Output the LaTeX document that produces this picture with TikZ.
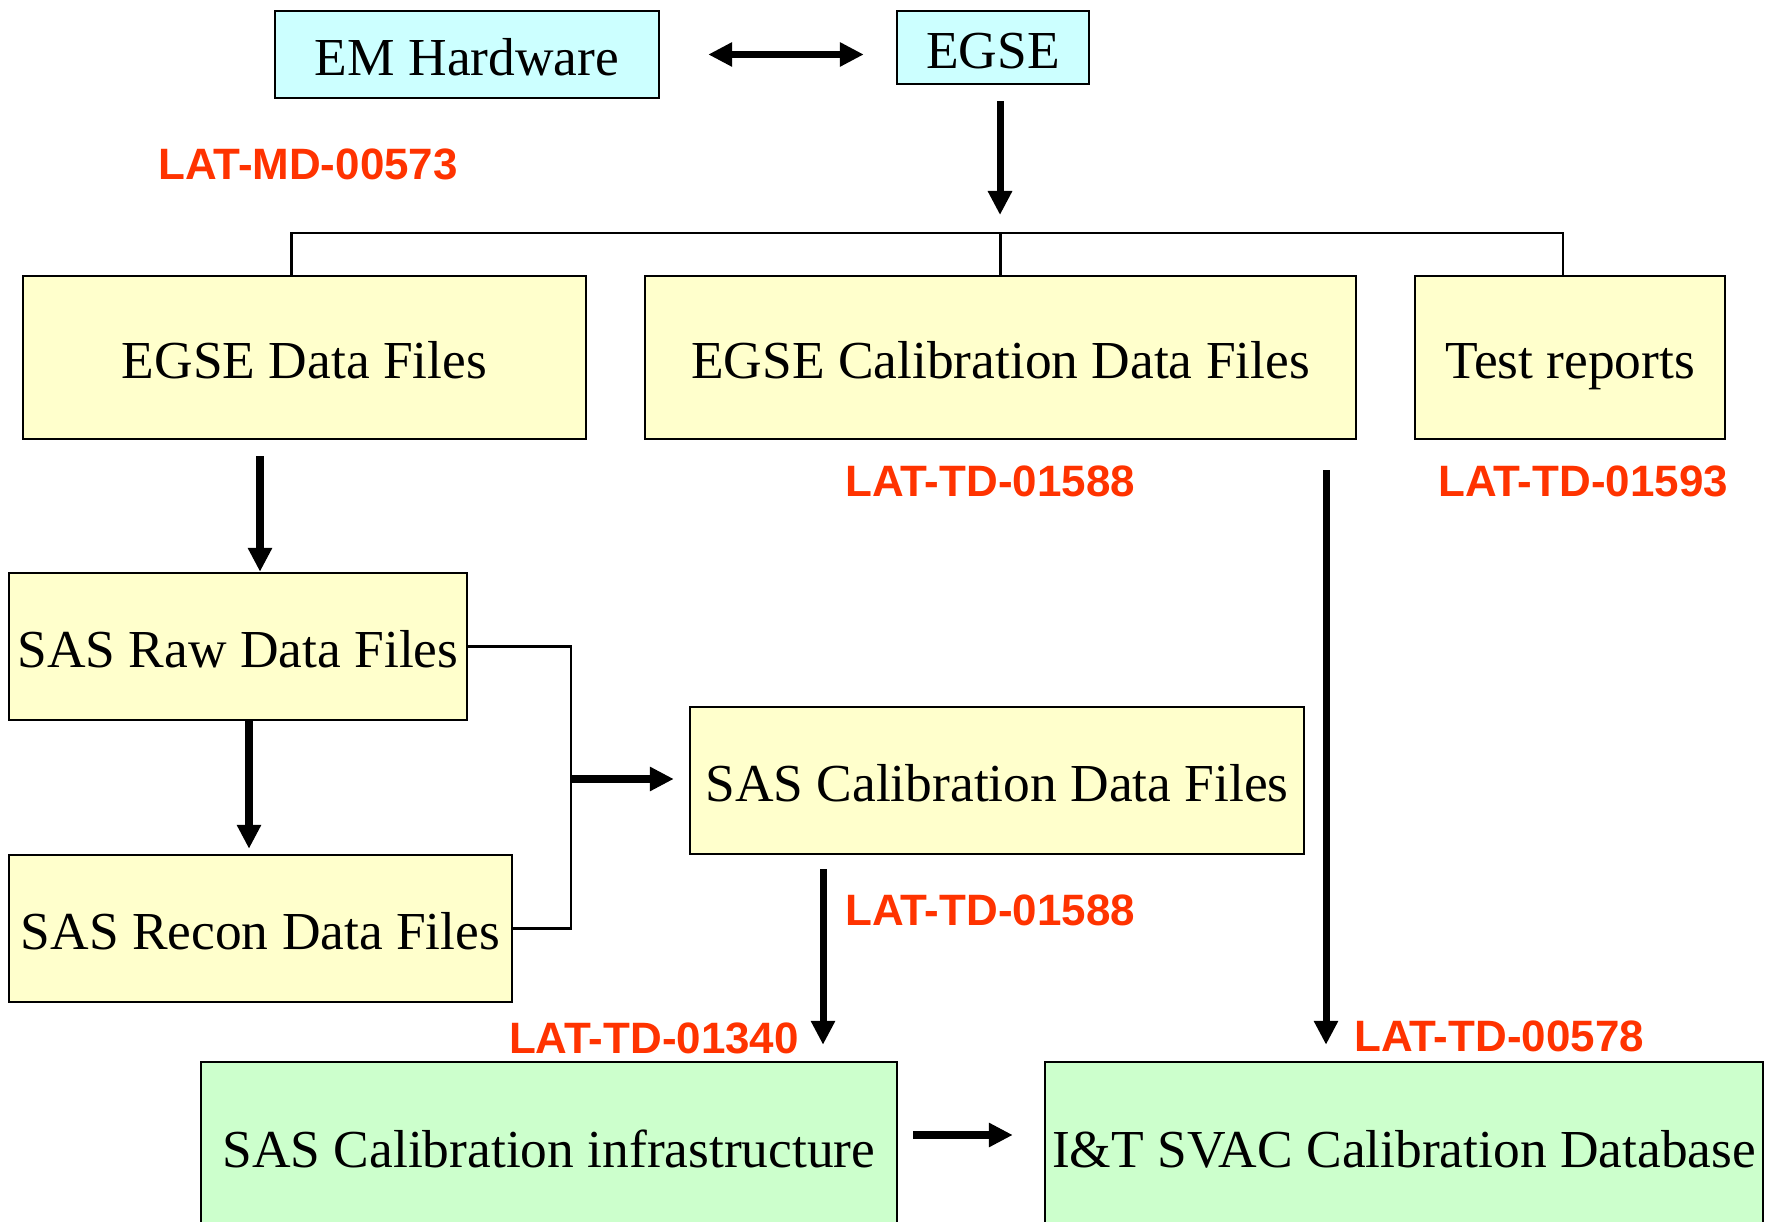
\documentclass[tikz,border=0pt]{standalone}
\usepackage{fontspec}
\setmainfont{Liberation Serif}
\newfontfamily\docfont{Liberation Sans}
\usetikzlibrary{arrows.meta}
\definecolor{hwcyan}{RGB}{204,255,255}
\definecolor{fileyellow}{RGB}{255,255,204}
\definecolor{calgreen}{RGB}{204,255,204}
\definecolor{docred}{RGB}{255,51,0}

\begin{document}
\begin{tikzpicture}[
  box/.style={shape=rectangle, draw=black, line width=0.7pt, inner sep=0pt, text height=13pt, text depth=1pt, font=\fontsize{15.2}{18}\selectfont},
  doc/.style={text=docred, font=\docfont\bfseries\fontsize{12.5}{15}\selectfont},
  arr/.style={line width=2pt, -{Triangle[length=2.4mm, width=2.3mm]}},
  wire/.style={line width=0.6pt}]
\useasboundingbox (0,0) rectangle (17.73,12.21);
% top row
\node[box, fill=hwcyan, minimum width=3.84cm, minimum height=0.87cm] (em) at (4.67, 11.665) {EM Hardware};
\node[box, fill=hwcyan, minimum width=1.92cm, minimum height=0.73cm] (egse) at (9.93, 11.735) {EGSE};
\node[doc] (md573) at (3.08, 10.57) {LAT-MD-00573};
\coordinate (bus) at (10.0, 9.88);
% egse outputs
\node[box, fill=fileyellow, minimum width=5.63cm, minimum height=1.63cm] (data) at (3.045, 8.635) {EGSE Data Files};
\node[box, fill=fileyellow, minimum width=7.11cm, minimum height=1.63cm] (cal) at (10.005, 8.635) {EGSE Calibration Data Files};
\node[box, fill=fileyellow, minimum width=3.10cm, minimum height=1.63cm] (test) at (15.70, 8.635) {Test reports};
\node[doc] (td1588a) at (9.90, 7.40) {LAT-TD-01588};
\node[doc] (td1593) at (15.83, 7.40) {LAT-TD-01593};
% sas files
\node[box, fill=fileyellow, minimum width=4.58cm, minimum height=1.47cm] (raw) at (2.38, 5.745) {SAS Raw Data Files};
\node[box, fill=fileyellow, minimum width=5.03cm, minimum height=1.47cm] (recon) at (2.605, 2.925) {SAS Recon Data Files};
\node[box, fill=fileyellow, minimum width=6.14cm, minimum height=1.47cm] (sascal) at (9.97, 4.405) {SAS Calibration Data Files};
\coordinate (merge) at (5.71, 4.42);
\node[doc] (td1588b) at (9.90, 3.11) {LAT-TD-01588};
\node[doc] (td1340) at (6.54, 1.83) {LAT-TD-01340};
\node[doc] (td578) at (14.99, 1.85) {LAT-TD-00578};
% bottom row
\node[box, fill=calgreen, minimum width=6.96cm, minimum height=1.68cm] (infra) at (5.49, 0.75) {SAS Calibration infrastructure};
\node[box, fill=calgreen, minimum width=7.18cm, minimum height=1.68cm] (svac) at (14.04, 0.75) {I\&T SVAC Calibration Database};

\draw[line width=2pt, {Triangle[length=2.4mm, width=2.3mm]}-{Triangle[length=2.4mm, width=2.3mm]}, shorten <=4.8mm, shorten >=3.2mm] (em.east) -- (em.east -| egse.west);
\draw[arr, shorten <=1.6mm, shorten >=1.8mm] ([xshift=0.7mm]egse.south) -- ([xshift=0.7mm]egse.south |- bus);
\draw[wire] ([xshift=-1.3mm]data.north) |- (bus) -| ([xshift=-0.7mm]test.north);
\draw[wire] (cal.north) -- (cal.north |- bus);
\draw[arr, shorten <=1.6mm] ([xshift=-4.45mm]data.south) -- ([xshift=-4.45mm]data.south |- raw.north);
\draw[arr, shorten >=0.5mm] ([xshift=1.1mm]raw.south) -- ([xshift=1.1mm]raw.south |- recon.north);
\draw[wire] (raw.east) -| (merge) |- (recon.east);
\draw[arr, shorten >=1.5mm] (merge) -- (merge -| sascal.west);
\draw[arr, shorten <=1.4mm, shorten >=1.6mm] ([xshift=-17.4mm]sascal.south) -- ([xshift=-17.4mm]sascal.south |- infra.north);
\draw[arr, shorten <=3.0mm, shorten >=1.6mm] ([xshift=32.55mm]cal.south) -- ([xshift=32.55mm]cal.south |- svac.north);
\draw[arr, shorten <=1.5mm, shorten >=3.1mm] ([yshift=1.1mm]infra.east) -- ([yshift=1.1mm]infra.east -| svac.west);
\end{tikzpicture}
\end{document}
